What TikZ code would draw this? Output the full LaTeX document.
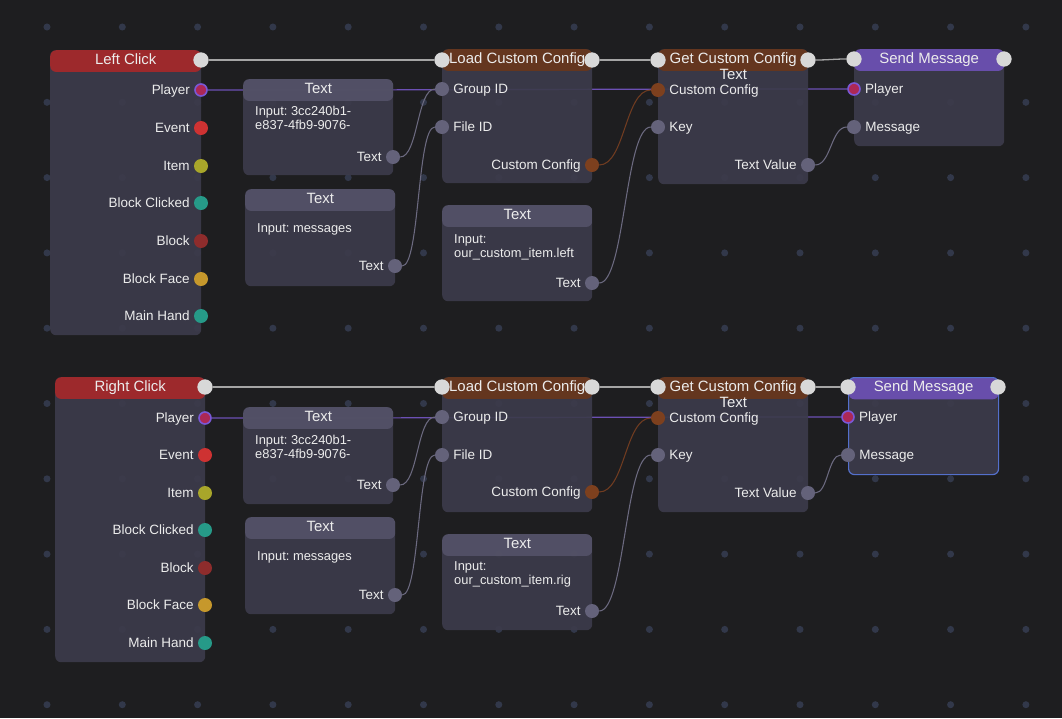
\documentclass[tikz,border=0pt]{standalone}
\usepackage{fontspec}
\setmainfont{Liberation Sans}
\usepackage{tikz}
\usetikzlibrary{positioning,calc}
\frenchspacing
\definecolor{canvas}{RGB}{30,30,32}
\definecolor{griddot}{RGB}{50,56,74}
\definecolor{bodyc}{RGB}{60,59,75}
\definecolor{texthdr}{RGB}{84,82,104}
\definecolor{clickred}{RGB}{166,40,42}
\definecolor{cfgbrown}{RGB}{104,54,28}
\definecolor{msgpurple}{RGB}{108,80,180}
\definecolor{execc}{RGB}{216,216,216}
\definecolor{execwire}{RGB}{165,165,165}
\definecolor{datasock}{RGB}{100,98,122}
\definecolor{datawire}{RGB}{108,106,128}
\definecolor{cfgsock}{RGB}{125,64,30}
\definecolor{cfgwire}{RGB}{112,60,32}
\definecolor{plfill}{RGB}{172,40,86}
\definecolor{plring}{RGB}{122,88,214}
\definecolor{plwire}{RGB}{108,80,180}
\definecolor{eventc}{RGB}{206,50,50}
\definecolor{itemc}{RGB}{168,166,42}
\definecolor{tealc}{RGB}{38,154,136}
\definecolor{blockc}{RGB}{142,44,44}
\definecolor{facec}{RGB}{198,152,44}
\definecolor{selblue}{RGB}{84,112,204}
\definecolor{txtc}{RGB}{236,236,236}
\pgfdeclarelayer{back}
\pgfdeclarelayer{wires}
\pgfsetlayers{back,wires,main}
\tikzset{
  blk/.style 2 args={rectangle, rounded corners=5pt, fill=bodyc, fill opacity=0.92,
                     anchor=north west, inner sep=0pt,
                     minimum width=#1*0.03cm, minimum height=#2*0.03cm},
  band/.style={path picture={\fill[#1] (path picture bounding box.north west)
                 rectangle ([yshift=-0.65cm]path picture bounding box.north east);}},
  ttl/.style={text=txtc, font=\fontsize{12.75}{14}\selectfont, inner sep=0pt,
              text height=0.72em, text depth=0pt},
  sock/.style={circle, inner sep=0pt, minimum size=0.42cm, fill=#1},
  execsock/.style={sock=execc, minimum size=0.46cm},
  plsock/.style={sock=plfill, draw=plring, line width=1.4pt, minimum size=0.36cm},
  outlbl/.style={text=txtc, font=\fontsize{11.5}{13}\selectfont, inner sep=0pt,
                 text height=0.72em, text depth=0pt},
  inlbl/.style={outlbl},
  bodytxt/.style={text=txtc, font=\fontsize{11}{12}\selectfont, inner sep=0pt,
                  align=left, anchor=west},
  execw/.style={line width=1.1pt, execwire},
  plw/.style={line width=1pt, plwire},
  dataw/.style={line width=0.9pt, datawire},
  cfgw/.style={line width=0.9pt, cfgwire}
}
\begin{document}
\begin{tikzpicture}[x=0.03cm, y=-0.03cm]
\begin{pgfonlayer}{back}
\fill[canvas] (0,0) rectangle (1062,718);
\foreach \i in {0,...,13}
  \foreach \j in {0,...,9}
    \fill[griddot] (47+75.3*\i, 27+75.3*\j) circle (3pt);
\end{pgfonlayer}

% upper graph
\node[blk={151}{285}, band=clickred] (lc) at (50,50) {};
\node[ttl] (lcT) at ([yshift=-0.3cm]lc.north) {Left Click};
\node[execsock] (lcX) at (201,60) {};
\node[plsock] (lcP) at (201,90) {};
\node[sock=eventc] (lcE) at (201,128) {};
\node[sock=itemc] (lcI) at (201,166) {};
\node[sock=tealc] (lcBC) at (201,203) {};
\node[sock=blockc] (lcB) at (201,241) {};
\node[sock=facec] (lcBF) at (201,279) {};
\node[sock=tealc] (lcMH) at (201,316) {};
\node[outlbl, left=0.12cm of lcP] (lcPl) {Player};
\node[outlbl, left=0.12cm of lcE] (lcEl) {Event};
\node[outlbl, left=0.12cm of lcI] (lcIl) {Item};
\node[outlbl, left=0.12cm of lcBC] (lcBCl) {Block Clicked};
\node[outlbl, left=0.12cm of lcB] (lcBl) {Block};
\node[outlbl, left=0.12cm of lcBF] (lcBFl) {Block Face};
\node[outlbl, left=0.12cm of lcMH] (lcMHl) {Main Hand};

\node[blk={150}{96}, band=texthdr] (t1) at (243,79) {};
\node[ttl] (t1T) at ([yshift=-0.3cm]t1.north) {Text};
\node[bodytxt] (t1b) at (255,118) {Input: 3cc240b1-\\e837-4fb9-9076-};
\node[sock=datasock] (t1S) at (393,157) {};
\node[outlbl, left=0.12cm of t1S] (t1Sl) {Text};

\node[blk={150}{97}, band=texthdr] (t2) at (245,189) {};
\node[ttl] (t2T) at ([yshift=-0.3cm]t2.north) {Text};
\node[bodytxt] (t2b) at (257,229) {Input: messages};
\node[sock=datasock] (t2S) at (395,266) {};
\node[outlbl, left=0.12cm of t2S] (t2Sl) {Text};

\node[blk={150}{134}, band=cfgbrown] (lcc) at (442,49) {};
\node[ttl] (lccT) at ([yshift=-0.32cm]lcc.north) {Load Custom Config};
\node[execsock] (lccXi) at (442,60) {};
\node[execsock] (lccXo) at (592,60) {};
\node[sock=datasock] (lccG) at (442,89) {};
\node[sock=datasock] (lccF) at (442,127) {};
\node[sock=cfgsock] (lccC) at (592,165) {};
\node[inlbl, right=0.12cm of lccG] (lccGl) {Group ID};
\node[inlbl, right=0.12cm of lccF] (lccFl) {File ID};
\node[outlbl, left=0.12cm of lccC] (lccCl) {Custom Config};

\node[blk={150}{96}, band=texthdr] (t3) at (442,205) {};
\node[ttl] (t3T) at ([yshift=-0.3cm]t3.north) {Text};
\node[bodytxt] (t3b) at (454,247) {Input:\\our\_custom\_item.left};
\node[sock=datasock] (t3S) at (592,283) {};
\node[outlbl, left=0.12cm of t3S] (t3Sl) {Text};

\node[blk={150}{135}, band=cfgbrown] (gcc) at (658,49) {};
\node[ttl] (gccT) at ([yshift=-0.32cm]gcc.north) {Get Custom Config};
\node[ttl] (gccS) at ([yshift=-0.78cm]gcc.north) {Text};
\node[execsock] (gccXi) at (658,60) {};
\node[execsock] (gccXo) at (808,60) {};
\node[sock=cfgsock] (gccC) at (658,90) {};
\node[sock=datasock] (gccK) at (658,127) {};
\node[sock=datasock] (gccV) at (808,165) {};
\node[inlbl, right=0.12cm of gccC] (gccCl) {Custom Config};
\node[inlbl, right=0.12cm of gccK] (gccKl) {Key};
\node[outlbl, left=0.12cm of gccV] (gccVl) {Text Value};

\node[blk={150}{97}, band=msgpurple] (sm) at (854,49) {};
\node[ttl] (smT) at ([yshift=-0.3cm]sm.north) {Send Message};
\node[execsock] (smXi) at (854,59) {};
\node[execsock] (smXo) at (1004,59) {};
\node[plsock] (smP) at (854,89) {};
\node[sock=datasock] (smM) at (854,127) {};
\node[inlbl, right=0.12cm of smP] (smPl) {Player};
\node[inlbl, right=0.12cm of smM] (smMl) {Message};

% lower graph
\node[blk={150}{285}, band=clickred] (rc) at (55,377) {};
\node[ttl] (rcT) at ([yshift=-0.3cm]rc.north) {Right Click};
\node[execsock] (rcX) at (205,387) {};
\node[plsock] (rcP) at (205,418) {};
\node[sock=eventc] (rcE) at (205,455) {};
\node[sock=itemc] (rcI) at (205,493) {};
\node[sock=tealc] (rcBC) at (205,530) {};
\node[sock=blockc] (rcB) at (205,568) {};
\node[sock=facec] (rcBF) at (205,605) {};
\node[sock=tealc] (rcMH) at (205,643) {};
\node[outlbl, left=0.12cm of rcP] (rcPl) {Player};
\node[outlbl, left=0.12cm of rcE] (rcEl) {Event};
\node[outlbl, left=0.12cm of rcI] (rcIl) {Item};
\node[outlbl, left=0.12cm of rcBC] (rcBCl) {Block Clicked};
\node[outlbl, left=0.12cm of rcB] (rcBl) {Block};
\node[outlbl, left=0.12cm of rcBF] (rcBFl) {Block Face};
\node[outlbl, left=0.12cm of rcMH] (rcMHl) {Main Hand};

\node[blk={150}{97}, band=texthdr] (t4) at (243,407) {};
\node[ttl] (t4T) at ([yshift=-0.3cm]t4.north) {Text};
\node[bodytxt] (t4b) at (255,447) {Input: 3cc240b1-\\e837-4fb9-9076-};
\node[sock=datasock] (t4S) at (393,485) {};
\node[outlbl, left=0.12cm of t4S] (t4Sl) {Text};

\node[blk={150}{97}, band=texthdr] (t5) at (245,517) {};
\node[ttl] (t5T) at ([yshift=-0.3cm]t5.north) {Text};
\node[bodytxt] (t5b) at (257,557) {Input: messages};
\node[sock=datasock] (t5S) at (395,595) {};
\node[outlbl, left=0.12cm of t5S] (t5Sl) {Text};

\node[blk={150}{135}, band=cfgbrown] (lcc2) at (442,377) {};
\node[ttl] (lcc2T) at ([yshift=-0.32cm]lcc2.north) {Load Custom Config};
\node[execsock] (lcc2Xi) at (442,387) {};
\node[execsock] (lcc2Xo) at (592,387) {};
\node[sock=datasock] (lcc2G) at (442,417) {};
\node[sock=datasock] (lcc2F) at (442,455) {};
\node[sock=cfgsock] (lcc2C) at (592,492) {};
\node[inlbl, right=0.12cm of lcc2G] (lcc2Gl) {Group ID};
\node[inlbl, right=0.12cm of lcc2F] (lcc2Fl) {File ID};
\node[outlbl, left=0.12cm of lcc2C] (lcc2Cl) {Custom Config};

\node[blk={150}{96}, band=texthdr] (t6) at (442,534) {};
\node[ttl] (t6T) at ([yshift=-0.3cm]t6.north) {Text};
\node[bodytxt] (t6b) at (454,574) {Input:\\our\_custom\_item.rig};
\node[sock=datasock] (t6S) at (592,611) {};
\node[outlbl, left=0.12cm of t6S] (t6Sl) {Text};

\node[blk={150}{135}, band=cfgbrown] (gcc2) at (658,377) {};
\node[ttl] (gcc2T) at ([yshift=-0.32cm]gcc2.north) {Get Custom Config};
\node[ttl] (gcc2S) at ([yshift=-0.78cm]gcc2.north) {Text};
\node[execsock] (gcc2Xi) at (658,387) {};
\node[execsock] (gcc2Xo) at (808,387) {};
\node[sock=cfgsock] (gcc2C) at (658,418) {};
\node[sock=datasock] (gcc2K) at (658,455) {};
\node[sock=datasock] (gcc2V) at (808,493) {};
\node[inlbl, right=0.12cm of gcc2C] (gcc2Cl) {Custom Config};
\node[inlbl, right=0.12cm of gcc2K] (gcc2Kl) {Key};
\node[outlbl, left=0.12cm of gcc2V] (gcc2Vl) {Text Value};

\node[blk={150}{97}, band=msgpurple, draw=selblue, line width=1pt] (sm2) at (848,377) {};
\node[ttl] (sm2T) at ([yshift=-0.3cm]sm2.north) {Send Message};
\node[execsock] (sm2Xi) at (848,387) {};
\node[execsock] (sm2Xo) at (998,387) {};
\node[plsock] (sm2P) at (848,417) {};
\node[sock=datasock] (sm2M) at (848,455) {};
\node[inlbl, right=0.12cm of sm2P] (sm2Pl) {Player};
\node[inlbl, right=0.12cm of sm2M] (sm2Ml) {Message};

% wires
\begin{pgfonlayer}{wires}
\draw[execw] (lcX) -- (lccXi);
\draw[execw] (lccXo) -- (gccXi);
\draw[execw] (gccXo) .. controls +(20,0) and +(-20,0) .. (smXi);
\draw[plw] (lcP) .. controls +(300,0) and +(-300,0) .. (smP);
\draw[dataw] (t1S) .. controls +(25,0) and +(-25,0) .. (lccG);
\draw[dataw] (t2S) .. controls +(25,0) and +(-25,0) .. (lccF);
\draw[cfgw] (lccC) .. controls +(33,0) and +(-33,0) .. (gccC);
\draw[dataw] (t3S) .. controls +(33,0) and +(-33,0) .. (gccK);
\draw[dataw] (gccV) .. controls +(23,0) and +(-23,0) .. (smM);

\draw[execw] (rcX) -- (lcc2Xi);
\draw[execw] (lcc2Xo) -- (gcc2Xi);
\draw[execw] (gcc2Xo) -- (sm2Xi);
\draw[plw] (rcP) .. controls +(300,0) and +(-300,0) .. (sm2P);
\draw[dataw] (t4S) .. controls +(25,0) and +(-25,0) .. (lcc2G);
\draw[dataw] (t5S) .. controls +(25,0) and +(-25,0) .. (lcc2F);
\draw[cfgw] (lcc2C) .. controls +(33,0) and +(-33,0) .. (gcc2C);
\draw[dataw] (t6S) .. controls +(33,0) and +(-33,0) .. (gcc2K);
\draw[dataw] (gcc2V) .. controls +(20,0) and +(-20,0) .. (sm2M);
\end{pgfonlayer}
\end{tikzpicture}
\end{document}
